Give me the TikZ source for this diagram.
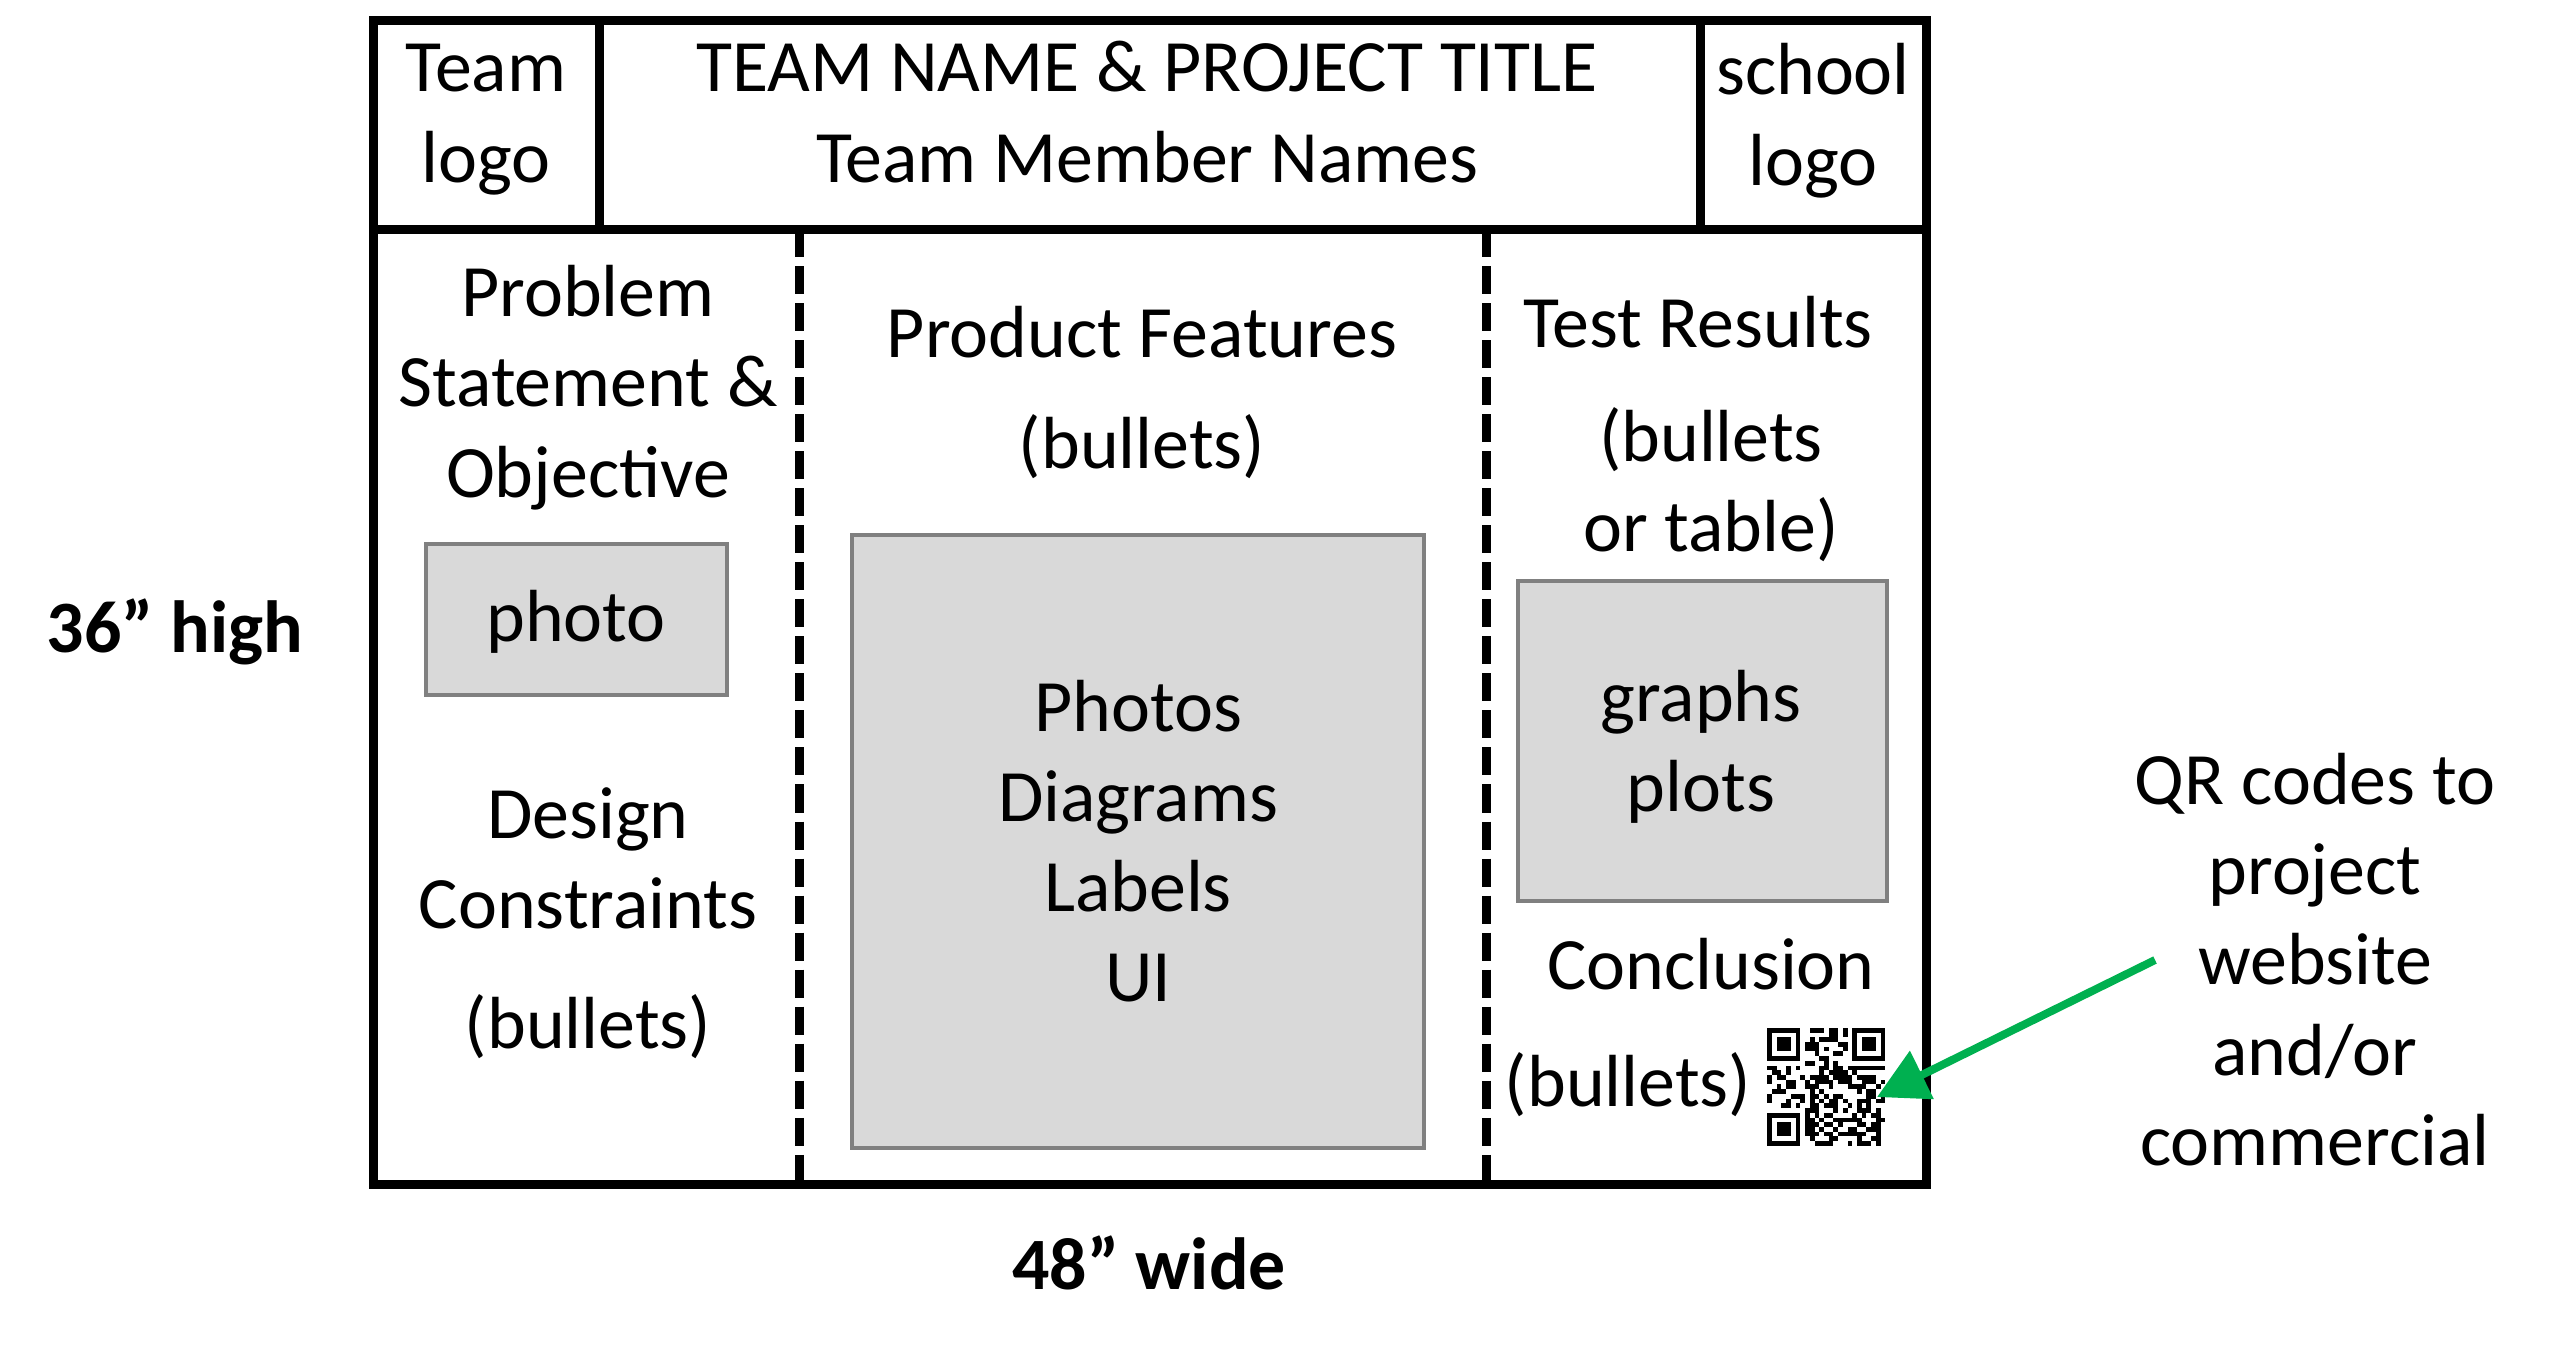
\documentclass[tikz,border=0pt]{standalone}
\usepackage{fontspec}
\setmainfont{Carlito}
\usetikzlibrary{arrows.meta}
\tikzset{>=latex}
\definecolor{qrgreen}{RGB}{0,176,80}

\begin{document}
\begin{tikzpicture}[x=0.01cm, y=-0.01cm,
    frame/.style={line width=2.56pt},
    sep/.style={line width=2.56pt, dash pattern=on 7.97pt off 2.56pt},
    pic/.style={draw=gray, fill=gray!30, line width=1.3pt},
    txt/.style={font=\fontsize{21}{25.6}\selectfont, align=center, anchor=base, inner sep=0pt},
    dim/.style={font=\bfseries\fontsize{21}{25.6}\selectfont, anchor=base, inner sep=0pt}]
  \useasboundingbox (0,0) rectangle (2560,1356);

  % poster frame
  \draw[frame] (373,20) rectangle (1926,1184);
  \draw[frame] (373,229) -- (1926,229);
  \draw[frame] (599,20) -- (599,229);
  \draw[frame] (1700,20) -- (1700,229);
  \draw[sep] (799,229) -- (799,1184);
  \draw[sep] (1486,229) -- (1486,1184);

  % header (base = last line)
  \node[txt] (teamlogo) at (486,182) {Team\\logo};
  \node[txt] (title) at (1147,182) {TEAM NAME \& PROJECT TITLE\\Team Member Names};
  \node[txt] (schoollogo) at (1813,185) {school\\logo};

  % left column
  \node[txt] (problem) at (588,497) {Problem\\Statement \&\\Objective};
  \node[pic, minimum width=3.01cm, minimum height=1.51cm] (photo) at (576.5,619.5) {};
  \node[txt] (photot) at (576,641) {photo};
  \node[txt] (design) at (588,928) {Design\\Constraints};
  \node[txt] (designb) at (588,1048) {(bullets)};

  % middle column
  \node[txt] (features) at (1142,357) {Product Features};
  \node[txt] (featuresb) at (1142,468) {(bullets)};
  \node[pic, txt, anchor=center, minimum width=5.72cm, minimum height=6.13cm] (photos) at (1138,841.5) {Photos\\Diagrams\\Labels\\UI};

  % right column
  \node[txt] (tests) at (1698,347) {Test Results};
  \node[txt] (testsb) at (1711,551) {(bullets\\or table)};
  \node[pic, minimum width=3.69cm, minimum height=3.2cm] (graphs) at (1702.5,741) {};
  \node[txt] (graphst) at (1701,811) {graphs\\plots};
  \node[txt] (concl) at (1711,989) {Conclusion};
  \node[txt] (conclb) at (1628,1106) {(bullets)};

  % qr code
  \node[minimum size=1.18cm, inner sep=0pt] (qr) at (1827,1087.5) {};
  \begin{scope}[shift={(qr.north west)}, x=0.0472cm, y=-0.0472cm]
    \pgfmathsetseed{12}
    \foreach \i in {0,...,24}
      \foreach \j in {0,...,24} {
        \pgfmathtruncatemacro\fin{((\i<8) && (\j<8)) || ((\i>16) && (\j<8)) || ((\i<8) && (\j>16))}
        \pgfmathtruncatemacro\bit{rnd<0.5}
        \ifnum\fin=0 \ifnum\bit=1 \fill (\i,\j) rectangle ++(1,1); \fi\fi
      }
    \foreach \a/\b in {0/0,18/0,0/18} {
      \fill (\a,\b) rectangle ++(7,7);
      \fill[white] (\a+1,\b+1) rectangle ++(5,5);
      \fill (\a+2,\b+2) rectangle ++(3,3);
    }
  \end{scope}

  % outside labels
  \node[txt] (qrtext) at (2315,1165) {QR codes to\\project\\website\\and/or\\commercial};
  \coordinate (arrowtail) at (2155,960);
  \coordinate (qrtip) at (1877,1097);
  \draw[qrgreen, line width=2.27pt, -{Triangle[length=0.5cm, width=0.52cm]}] (arrowtail) -- (qrtip);
  \node[dim] (high) at (175,652) {36” high};
  \node[dim] (wide) at (1149,1289) {48” wide};
\end{tikzpicture}
\end{document}
